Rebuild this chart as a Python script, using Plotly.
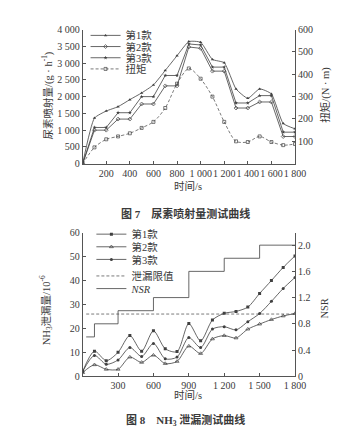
import plotly.graph_objects as go

W, H = 362, 428

# ---------------- Figure 7 data ----------------
t1 = [0, 100, 200, 300, 400, 500, 600, 700, 800, 900, 1000, 1100, 1200, 1300, 1400, 1500, 1600, 1700, 1800]
urea_1 = [0, 1360, 1570, 1700, 1910, 2110, 2350, 2780, 3220, 3640, 3620, 3110, 3010, 2230, 1950, 2230, 2080, 1200, 1040]
urea_2 = [0, 1000, 1000, 1330, 1330, 1780, 1780, 2320, 2320, 3480, 3440, 2760, 2760, 1660, 1660, 1840, 1840, 810, 810]
urea_3 = [0, 1080, 1080, 1520, 1520, 2000, 2000, 2630, 2630, 3570, 3540, 2880, 2880, 1810, 1810, 2030, 2030, 940, 940]
torque = [0, 73, 109, 122, 136, 160, 187, 249, 358, 426, 380, 300, 187, 100, 97, 122, 97, 83, 88]
x1_ticks = [200, 400, 600, 800, 1000, 1200, 1400, 1600, 1800]
x1_labels = ["200", "400", "600", "800", "1 000", "1 200", "1 400", "1 600", "1 800"]
y1_ticks = [0, 500, 1000, 1500, 2000, 2500, 3000, 3500, 4000]
y1_labels = ["0", "500", "1 000", "1 500", "2 000", "2 500", "3 000", "3 500", "4 000"]
tq_ticks = [100, 200, 300, 400, 500, 600]

# ---------------- Figure 8 data ----------------
t2 = [0, 100, 200, 300, 400, 500, 600, 700, 800, 900, 1000, 1100, 1200, 1300, 1400, 1500, 1600, 1700, 1800]
nh3_1 = [2, 10.5, 6.5, 10, 17, 10.5, 19, 11.5, 10.3, 22, 14.8, 23.5, 26.3, 27.1, 28.9, 34.6, 40, 45.5, 50.3]
nh3_2 = [1.5, 4.8, 2.9, 2.9, 8, 5.8, 8.8, 5.3, 6.2, 12.6, 9.5, 15.6, 17, 16, 19.7, 21.8, 23.7, 25.2, 26.2]
nh3_3 = [2, 8.7, 5, 6.8, 12, 8.3, 13.7, 7.3, 8, 16.2, 12, 19.7, 20.7, 19.4, 22.8, 26.2, 31.3, 36.7, 41.3]
leak_limit = 26
nsr_t = [30, 100, 300, 600, 900, 1200, 1500, 1800]
nsr = [0.6, 0.8, 1.0, 1.2, 1.6, 1.8, 2.0, 2.0]
x2_ticks = [300, 600, 900, 1200, 1500, 1800]
x2_labels = ["300", "600", "900", "1 200", "1 500", "1 800"]
y3_ticks = [0, 10, 20, 30, 40, 50, 60]
nsr_ticks = [0, 0.4, 0.8, 1.2, 1.6, 2.0]
nsr_labels = ["0", "0.4", "0.8", "1.2", "1.6", "2.0"]

FONT = "Liberation Serif, Noto Sans CJK SC, serif"
LC = "#404040"
AX = "#555555"
TC = "#3a3a3a"


def px(x):
    return x / W


def py(y):
    return 1 - y / H


fig = go.Figure()

# Figure 7 traces
fig.add_trace(go.Scatter(x=t1, y=urea_1, name="第1款", mode="lines+markers",
                         line=dict(color=LC, width=0.8, shape="spline", smoothing=0.5),
                         marker=dict(symbol="triangle-up", size=3, color=LC),
                         xaxis="x", yaxis="y", legend="legend"))
fig.add_trace(go.Scatter(x=t1, y=urea_2, name="第2款", mode="lines+markers",
                         line=dict(color=LC, width=0.8),
                         marker=dict(symbol="diamond-open", size=3, color=LC, line=dict(width=0.7)),
                         xaxis="x", yaxis="y", legend="legend2"))
fig.add_trace(go.Scatter(x=t1, y=urea_3, name="第3款", mode="lines+markers",
                         line=dict(color=LC, width=0.8),
                         marker=dict(symbol="star", size=3, color=LC),
                         xaxis="x", yaxis="y", legend="legend3"))
fig.add_trace(go.Scatter(x=t1, y=torque, name="扭矩", mode="lines+markers",
                         line=dict(color=LC, width=0.7, dash="3px,2px", shape="spline", smoothing=0.8),
                         marker=dict(symbol="square-open", size=3, color=LC, line=dict(width=0.7)),
                         xaxis="x", yaxis="y2", legend="legend4"))

# Figure 8 traces
fig.add_trace(go.Scatter(x=t2, y=nh3_1, name="第1款", mode="lines+markers",
                         line=dict(color=LC, width=0.8, shape="spline", smoothing=0.8),
                         marker=dict(symbol="square", size=3, color=LC),
                         xaxis="x2", yaxis="y3", legend="legend5"))
fig.add_trace(go.Scatter(x=t2, y=nh3_2, name="第2款", mode="lines+markers",
                         line=dict(color=LC, width=0.8, shape="spline", smoothing=0.8),
                         marker=dict(symbol="triangle-up-open", size=3.5, color=LC, line=dict(width=0.7)),
                         xaxis="x2", yaxis="y3", legend="legend6"))
fig.add_trace(go.Scatter(x=t2, y=nh3_3, name="第3款", mode="lines+markers",
                         line=dict(color=LC, width=0.8, shape="spline", smoothing=0.8),
                         marker=dict(symbol="circle", size=3, color=LC),
                         xaxis="x2", yaxis="y3", legend="legend7"))
fig.add_trace(go.Scatter(x=[nsr_t[0], t2[-1]], y=[leak_limit, leak_limit], name="泄漏限值", mode="lines",
                         line=dict(color=LC, width=0.7, dash="3px,2px"),
                         xaxis="x2", yaxis="y3", legend="legend8"))
fig.add_trace(go.Scatter(x=nsr_t, y=nsr, name="<i>NSR</i>", mode="lines",
                         line=dict(color=LC, width=0.8, shape="hv"),
                         xaxis="x2", yaxis="y4", legend="legend9"))

XD = [px(77), px(296)]
axis_common = dict(showgrid=False, zeroline=False, showline=True, linecolor=AX, linewidth=1,
                   ticks="inside", ticklen=3, tickcolor=AX, tickwidth=1, tickangle=0,
                   tickfont=dict(family=FONT, size=10, color=TC))

layout = dict(
    width=W, height=H, autosize=False,
    margin=dict(l=0, r=0, t=0, b=0),
    paper_bgcolor="white", plot_bgcolor="white",
    font=dict(family=FONT, size=10, color=TC),
    showlegend=True,
    xaxis=dict(domain=XD, range=[0, 1800], anchor="y", tickvals=x1_ticks, ticktext=x1_labels, **axis_common),
    yaxis=dict(domain=[py(154), py(16)], range=[0, 4000], anchor="x", tickvals=y1_ticks, ticktext=y1_labels, **axis_common),
    yaxis2=dict(overlaying="y", side="right", range=[0, 600], anchor="x", tickvals=tq_ticks, **axis_common),
    xaxis2=dict(domain=XD, range=[0, 1800], anchor="y3", tickvals=x2_ticks, ticktext=x2_labels, **axis_common),
    yaxis3=dict(domain=[py(372.7), py(225)], range=[0, 60], anchor="x2", tickvals=y3_ticks, **axis_common),
    yaxis4=dict(overlaying="y3", side="right", range=[0, 2.19], anchor="x2", tickvals=nsr_ticks, ticktext=nsr_labels, **axis_common),
)

leg_rows = [("legend", 80, 22), ("legend2", 80, 33.5), ("legend3", 80, 45), ("legend4", 80, 56.5),
            ("legend5", 86, 226.5), ("legend6", 86, 239.5), ("legend7", 86, 252.5),
            ("legend8", 86, 269.5), ("legend9", 86, 282.5)]
for name, lx, ly in leg_rows:
    layout[name] = dict(x=px(lx), y=py(ly), xanchor="left", yanchor="middle",
                        bgcolor="rgba(0,0,0,0)", borderwidth=0,
                        font=dict(family=FONT, size=10.5, color=TC))

fig.update_layout(**layout)


def ann(text, x, y, size=10.5, angle=0, bold=False):
    fig.add_annotation(text=f"<b>{text}</b>" if bold else text, x=px(x), y=py(y), xref="paper", yref="paper",
                       xanchor="center", yanchor="middle", showarrow=False, textangle=angle,
                       font=dict(family=FONT, size=size, color=TC))


ann("尿素喷射量/(g · h<sup>-1</sup>)", 40, 84, angle=-90)
ann("扭矩/(N · m)", 328, 83, angle=-90)
ann("时间/s", 186, 177)
ann("图 7    尿素喷射量测试曲线", 183, 205, size=11, bold=True)
ann("NH<sub>3</sub>泄漏量/10<sup>-6</sup>", 40, 305, angle=-90)
ann("NSR", 326, 303, angle=-90)
ann("时间/s", 186, 392)
ann("图 8    NH<sub>3</sub> 泄漏测试曲线", 183, 418, size=11, bold=True)

fig.write_html("out.html")
